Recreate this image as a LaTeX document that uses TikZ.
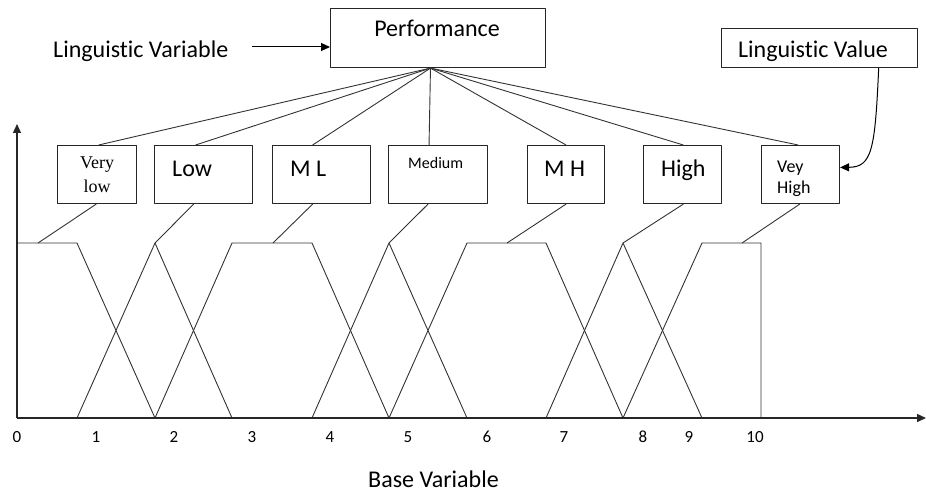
\documentclass[tikz,border=0pt]{standalone}
\usepackage{fontspec}
\setmainfont[Ligatures={NoCommon}]{Carlito}
\newfontfamily\timesf{Liberation Serif}
\usetikzlibrary{arrows.meta,calc}
\begin{document}
\begin{tikzpicture}[x=1pt,y=-1pt,line join=round,
  box/.style={draw=black!85,line width=1.1pt,inner sep=0pt,anchor=north west,minimum height=58pt},
  txt/.style={inner sep=0pt,anchor=base west},
  big/.style={font=\fontsize{24}{26}\selectfont},
  ln/.style={line width=0.9pt,draw=black!80},
  axis/.style={line width=1.4pt,draw=black!85},
  arr/.style={line width=1pt,-{Triangle[length=9pt,width=8pt]}}]
\useasboundingbox (0,0) rectangle (926,492);
% top boxes
\node[box,minimum width=215pt,minimum height=59pt] (perf) at (330,8) {};
\node[txt,big,anchor=base] (perft) at (437,37) {Performance};
\node[box,minimum width=196pt,minimum height=39pt] (lv) at (721,28) {};
\node[txt,big,anchor=base] (lvt) at (813,58) {Linguistic Value};
\node[txt,big] (lvar) at (53,58) {Linguistic Variable};
% value boxes
\node[box,minimum width=79pt] (vl) at (57,145) {};
\node[box,minimum width=98pt] (low) at (154,145) {};
\node[box,minimum width=98pt] (ml) at (272,145) {};
\node[box,minimum width=99pt] (med) at (388,145) {};
\node[box,minimum width=77pt] (mh) at (527,145) {};
\node[box,minimum width=78pt] (high) at (643,145) {};
\node[box,minimum width=78pt] (vh) at (761,145) {};
% box texts
\node[txt,anchor=base,font=\timesf\fontsize{18}{20}\selectfont] (vlt1) at (97,168) {Very};
\node[txt,anchor=base,font=\timesf\fontsize{18}{20}\selectfont] (vlt2) at (97,192) {low};
\node[txt,big] (lowt) at (172,176) {Low};
\node[txt,big] (mlt) at (290,176) {M L};
\node[txt,font=\fontsize{16}{18}\selectfont] (medt) at (408,168) {Medium};
\node[txt,big] (mht) at (544,176) {M H};
\node[txt,big] (hight) at (661,176) {High};
\node[txt,font=\fontsize{18}{20}\selectfont] (vht1) at (777,172) {Vey};
\node[txt,font=\fontsize{18}{20}\selectfont] (vht2) at (777,193) {High};
% arrows to Performance and from Linguistic Value
\coordinate (lvs) at (252,47);
\draw[arr] (lvs) -- (lvs -| perf.west);
\coordinate (lvb) at ($(lv.south west)!0.80!(lv.south east)$);
\coordinate (vhe) at ($(vh.north east)!0.38!(vh.south east)$);
\draw[arr] (lvb) .. controls (875,150) and (872,167) .. (vhe);
% fan lines
\coordinate (apex) at ($(perf.south west)!0.465!(perf.south east)$);
\draw[ln] (apex) -- ($(vl.north west)!0.52!(vl.north east)$);
\draw[ln] (apex) -- ($(low.north west)!0.42!(low.north east)$);
\draw[ln] (apex) -- ($(ml.north west)!0.41!(ml.north east)$);
\draw[ln] (apex) -- ($(med.north west)!0.41!(med.north east)$);
\draw[ln] (apex) -- ($(mh.north west)!0.5!(mh.north east)$);
\draw[ln] (apex) -- ($(high.north west)!0.51!(high.north east)$);
\draw[ln] (apex) -- ($(vh.north west)!0.47!(vh.north east)$);
% peak coordinates
\coordinate (p1) at (38,243);
\coordinate (p2) at (155,243);
\coordinate (p3) at (273,243);
\coordinate (p4) at (389,243);
\coordinate (p5) at (507,243);
\coordinate (p6) at (623,243);
\coordinate (p7) at (742,243);
\draw[ln] ($(vl.south west)!0.49!(vl.south east)$) -- (p1);
\draw[ln] ($(low.south west)!0.40!(low.south east)$) -- (p2);
\draw[ln] ($(ml.south west)!0.41!(ml.south east)$) -- (p3);
\draw[ln] ($(med.south west)!0.40!(med.south east)$) -- (p4);
\draw[ln] ($(mh.south west)!0.5!(mh.south east)$) -- (p5);
\draw[ln] ($(high.south west)!0.51!(high.south east)$) -- (p6);
\draw[ln] ($(vh.south west)!0.49!(vh.south east)$) -- (p7);
% membership functions
\draw[ln] (17,243) -- (77,243) -- (155,418);
\draw[ln] (77,418) -- (155,243) -- (232,418);
\draw[ln] (155,418) -- (232,243) -- (312,243) -- (389,418);
\draw[ln] (312,418) -- (389,243) -- (467,418);
\draw[ln] (389,418) -- (467,243) -- (546,243) -- (623,418);
\draw[ln] (546,418) -- (623,243) -- (702,418);
\draw[ln] (623,418) -- (702,243) -- (761,243) -- (761,418);
% axes
\coordinate (o) at (17,418);
\coordinate (ytop) at (17,124);
\coordinate (xend) at (926,418);
\draw[axis,-{Triangle[length=9pt,width=8pt]}] (o) -- (ytop);
\draw[axis,-{Triangle[length=9pt,width=8pt]}] (o) -- (xend);
% ticks
\foreach \v/\x in {0/17,1/96,2/174,3/252,4/330,5/408,6/487,7/564,8/643,9/689,10/755}
  \node[txt,anchor=base,font=\fontsize{17}{19}\selectfont] (t\v) at (\x,442) {\v};
\node[txt,big] (base) at (368,487) {Base Variable};
\end{tikzpicture}
\end{document}
